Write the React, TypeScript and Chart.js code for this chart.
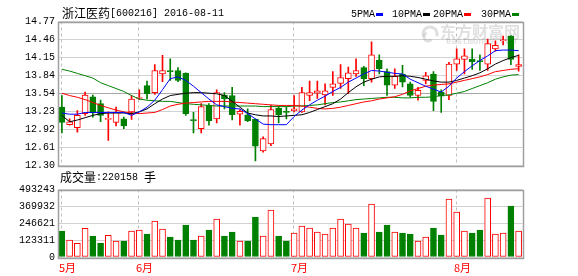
import React, { useEffect, useRef } from "react";
import { Chart, registerables } from "chart.js";
Chart.register(...registerables);

const tradeDates = [
  "05-18","05-19","05-20","05-23","05-24","05-25","05-26","05-27","05-30","05-31",
  "06-01","06-02","06-03","06-06","06-07","06-08","06-13","06-14","06-15","06-16",
  "06-17","06-20","06-21","06-22","06-23","06-24","06-27","06-28","06-29","06-30",
  "07-01","07-04","07-05","07-06","07-07","07-08","07-11","07-12","07-13","07-14",
  "07-15","07-18","07-19","07-20","07-21","07-22","07-25","07-26","07-27","07-28",
  "07-29","08-01","08-02","08-03","08-04","08-05","08-08","08-09","08-10","08-11"
];
const openPrices = [
  13.30,13.00,12.95,13.19,13.48,13.36,13.09,13.04,13.10,13.22,
  13.45,13.67,13.55,13.87,13.92,13.93,13.88,13.08,12.93,13.33,
  13.10,13.51,13.50,13.18,13.17,13.09,12.55,12.67,13.28,13.22,
  13.24,13.22,13.50,13.54,13.51,13.64,13.71,13.79,13.87,13.98,
  13.79,14.11,13.91,13.68,13.87,13.70,13.50,13.76,13.87,13.56,
  13.50,14.04,14.12,14.12,14.10,14.04,14.30,14.44,14.52,14.00
];
const highPrices = [
  13.50,13.10,13.24,13.56,13.51,13.42,13.22,13.30,13.13,13.50,
  13.60,13.75,14.03,14.19,14.13,13.98,13.89,13.21,13.36,13.36,
  13.60,13.55,13.64,13.26,13.27,13.10,12.79,13.33,13.32,13.30,
  13.50,13.64,13.75,13.75,13.70,13.91,14.03,13.99,14.13,14.00,
  14.42,14.20,13.96,13.96,14.02,13.73,13.64,13.90,13.91,13.60,
  14.07,14.30,14.30,14.30,14.20,14.47,14.44,14.52,14.53,14.20
];
const lowPrices = [
  12.86,12.99,12.87,13.16,13.13,13.05,12.73,12.98,12.93,13.09,
  13.43,13.44,13.52,13.74,13.76,13.74,13.16,12.86,12.86,12.99,
  13.03,13.27,13.08,12.99,13.05,12.38,12.53,12.64,13.03,13.10,
  13.22,13.21,13.41,13.45,13.34,13.50,13.62,13.53,13.83,13.67,
  13.73,13.87,13.50,13.62,13.65,13.47,13.42,13.70,13.24,13.21,
  13.43,13.93,13.87,13.95,13.93,13.93,14.26,14.37,14.03,13.92
];
const closePrices = [
  13.04,13.05,13.16,13.51,13.20,13.16,13.10,13.21,12.98,13.44,
  13.46,13.53,13.93,13.93,13.91,13.76,13.19,13.07,13.31,13.07,
  13.55,13.44,13.17,13.23,13.07,12.63,12.76,13.26,13.17,13.21,
  13.27,13.55,13.55,13.58,13.58,13.70,13.81,13.89,13.93,13.79,
  14.20,13.96,13.68,13.83,13.73,13.50,13.59,13.84,13.40,13.49,
  14.04,14.13,14.18,14.08,14.08,14.39,14.36,14.45,14.12,14.03
];
const volumes = [
  189520,123920,99620,208960,153080,102050,157930,116630,116630,189520,
  196810,167650,262420,204100,145790,123920,233260,123920,153080,196810,
  277000,153080,182230,116630,116630,291570,153080,342600,153080,116630,
  174940,225970,211390,182230,167650,211390,277000,240550,211390,174940,
  386330,182230,233260,182230,174940,167650,116630,145790,211390,160360,
  422780,328020,189520,174940,196810,430070,167650,174940,371760,189520
];
const ma5 = [
  13.20,13.18,13.18,13.21,13.21,13.21,13.21,13.21,13.21,13.16,
  13.22,13.30,13.42,13.60,13.79,13.82,13.76,13.66,13.55,13.44,
  13.34,13.31,13.28,13.27,13.19,13.10,13.01,13.00,13.00,13.00,
  13.14,13.25,13.34,13.42,13.49,13.57,13.64,13.73,13.80,13.87,
  13.93,13.92,13.90,13.88,13.87,13.78,13.72,13.66,13.61,13.56,
  13.66,13.80,13.91,14.01,14.10,14.18,14.27,14.28,14.28,14.27
];
const ma10 = [
  13.16,13.05,13.08,13.12,13.16,13.19,13.20,13.20,13.20,13.19,
  13.22,13.27,13.36,13.44,13.50,13.52,13.54,13.55,13.55,13.54,
  13.53,13.50,13.40,13.30,13.20,13.17,13.15,13.15,13.14,13.15,
  13.16,13.17,13.21,13.26,13.31,13.36,13.44,13.55,13.65,13.73,
  13.78,13.82,13.83,13.83,13.84,13.83,13.81,13.78,13.75,13.73,
  13.73,13.76,13.80,13.84,13.89,13.96,14.04,14.10,14.15,14.19
];
const ma20 = [
  13.54,13.50,13.47,13.43,13.38,13.33,13.29,13.25,13.22,13.20,
  13.19,13.20,13.21,13.26,13.32,13.35,13.37,13.38,13.39,13.40,
  13.40,13.40,13.39,13.38,13.37,13.36,13.35,13.34,13.33,13.33,
  13.33,13.32,13.30,13.28,13.27,13.28,13.30,13.33,13.36,13.39,
  13.41,13.44,13.46,13.48,13.52,13.58,13.62,13.66,13.68,13.69,
  13.70,13.73,13.76,13.79,13.82,13.86,13.91,13.93,13.95,13.96
];
const ma30 = [
  13.95,13.92,13.88,13.84,13.80,13.72,13.67,13.62,13.57,13.50,
  13.44,13.42,13.41,13.40,13.40,13.38,13.36,13.35,13.34,13.33,
  13.32,13.32,13.32,13.32,13.32,13.32,13.31,13.31,13.31,13.31,
  13.32,13.32,13.33,13.34,13.36,13.38,13.39,13.41,13.43,13.44,
  13.45,13.46,13.47,13.47,13.46,13.46,13.47,13.47,13.48,13.50,
  13.51,13.54,13.57,13.62,13.67,13.72,13.78,13.82,13.85,13.86
];
const priceTicks = [12.30, 12.61, 12.92, 13.23, 13.54, 13.84, 14.15, 14.46, 14.77];
const volumeTicks = [0, 123311, 246621, 369932, 493243];
const monthStartIndex = [0, 10, 30, 51];
const monthLabels = ["5月", "6月", "7月", "8月"];
const maLabels = ["5PMA", "10PMA", "20PMA", "30PMA"];
const stockName = "浙江医药";
const stockCode = "[600216] 2016-08-11";
const lastVolume = 220158;

const RED = "#ff0000";
const GREEN = "#008000";
const BLUE = "#0000ff";
const BLACK = "#000000";
const maColors = [BLUE, BLACK, RED, GREEN];
const legendX = [351, 392, 433, 481];
const CJK = '"Noto Sans CJK SC", sans-serif';
const MONO = '"Liberation Mono", monospace';

const up = openPrices.map((o, i) => closePrices[i] >= o);

function drawFrame(chart: any) {
  const { ctx, chartArea: a } = chart;
  ctx.save();
  ctx.strokeStyle = "#a0a0a0";
  ctx.lineWidth = 1.5;
  ctx.strokeRect(Math.round(a.left) + 0.5, Math.round(a.top) + 0.5, Math.round(a.right - a.left), Math.round(a.bottom - a.top));
  ctx.restore();
}

function drawMonthLines(chart: any) {
  const { ctx, chartArea: a, scales } = chart;
  ctx.save();
  ctx.strokeStyle = "#c0c0c0";
  ctx.lineWidth = 1;
  ctx.setLineDash([3, 3]);
  monthStartIndex.forEach((i) => {
    const x = Math.round(scales.x.getPixelForValue(i)) - 0.5;
    ctx.beginPath();
    ctx.moveTo(x, a.top);
    ctx.lineTo(x, a.bottom);
    ctx.stroke();
  });
  ctx.restore();
}

const pricePlugin = {
  id: "priceDeco",
  beforeDatasetsDraw(chart: any) {
    const { ctx } = chart;
    ctx.save();
    ctx.fillStyle = "rgba(150,150,150,0.30)";
    ctx.strokeStyle = "rgba(150,150,150,0.30)";
    ctx.lineWidth = 3;
    ctx.beginPath();
    ctx.arc(430, 34, 7, Math.PI * 0.9, Math.PI * 2.1);
    ctx.stroke();
    ctx.beginPath();
    ctx.arc(428, 37, 4, Math.PI * 0.2, Math.PI * 1.4);
    ctx.stroke();
    ctx.font = `bold 16px ${CJK}`;
    ctx.textBaseline = "middle";
    ctx.fillText("东方财富网", 440, 32);
    ctx.font = `bold 9px ${MONO}`;
    ctx.fillText("eastmoney.com", 446, 42);
    ctx.restore();
    drawMonthLines(chart);
  },
  afterDraw(chart: any) {
    const { ctx } = chart;
    drawFrame(chart);
    ctx.save();
    ctx.textBaseline = "middle";
    ctx.fillStyle = "#000";
    ctx.font = `12px ${CJK}`;
    ctx.fillText(stockName, 62, 13);
    const w = ctx.measureText(stockName).width;
    ctx.font = `10px ${MONO}`;
    ctx.fillText(stockCode, 62 + w, 13.5);
    maLabels.forEach((lab, k) => {
      ctx.font = `10px ${MONO}`;
      ctx.fillStyle = "#000";
      ctx.fillText(lab, legendX[k], 14);
      const tw = ctx.measureText(lab).width;
      ctx.fillStyle = maColors[k];
      ctx.fillRect(legendX[k] + tw + 1, 13, 7, 3);
    });
    ctx.restore();
  },
};

const volumePlugin = {
  id: "volDeco",
  beforeDatasetsDraw(chart: any) {
    drawMonthLines(chart);
  },
  afterDraw(chart: any) {
    const { ctx, scales } = chart;
    drawFrame(chart);
    ctx.save();
    ctx.textBaseline = "middle";
    ctx.fillStyle = "#000";
    let x = 60;
    ctx.font = `12px ${CJK}`;
    ctx.fillText("成交量", x, 177);
    x += ctx.measureText("成交量").width;
    ctx.font = `10px ${MONO}`;
    const vs = ":" + String(lastVolume);
    ctx.fillText(vs, x, 177.5);
    x += ctx.measureText(vs).width + 6;
    ctx.font = `12px ${CJK}`;
    ctx.fillText("手", x, 177);
    ctx.fillStyle = RED;
    monthStartIndex.forEach((i, k) => {
      const px = Math.round(scales.x.getPixelForValue(i)) - 3;
      ctx.font = `11px ${CJK}`;
      ctx.fillText(monthLabels[k], px, 268);
    });
    ctx.restore();
  },
};

export default function App() {
  const priceRef = useRef<HTMLCanvasElement>(null);
  const volRef = useRef<HTMLCanvasElement>(null);

  useEffect(() => {
    const priceChart = new Chart(priceRef.current as HTMLCanvasElement, {
      type: "bar",
      data: {
        labels: tradeDates,
        datasets: [
          ...[ma5, ma10, ma20, ma30].map((d, k) => ({
            type: "line" as const,
            label: maLabels[k],
            data: d,
            borderColor: maColors[k],
            borderWidth: 1,
            pointRadius: 0,
            tension: 0,
            fill: false,
            order: 0,
          })),
          {
            type: "bar" as const,
            label: "body",
            data: openPrices.map((o, i) => [o, closePrices[i]]),
            backgroundColor: up.map((u) => (u ? "#ffffff" : GREEN)),
            borderColor: up.map((u) => (u ? RED : GREEN)),
            borderWidth: 1,
            borderSkipped: false,
            barThickness: 6,
            minBarLength: 1,
            grouped: false,
            order: 1,
          },
          {
            type: "bar" as const,
            label: "wick",
            data: lowPrices.map((l, i) => [l, highPrices[i]]),
            backgroundColor: up.map((u) => (u ? RED : GREEN)),
            borderWidth: 0,
            barThickness: 1,
            grouped: false,
            order: 2,
          },
        ] as any,
      },
      options: {
        responsive: false,
        animation: false,
        layout: { padding: { top: 21.5, right: 55.5, bottom: 110.5, left: 0 } },
        plugins: { legend: { display: false }, tooltip: { enabled: false } },
        scales: {
          x: { type: "category", offset: true, display: false },
          y: {
            min: 12.3,
            max: 14.77,
            afterBuildTicks: (s: any) => {
              s.ticks = priceTicks.map((v) => ({ value: v }));
            },
            afterFit: (s: any) => {
              s.width = 58;
            },
            border: { display: false },
            grid: {
              drawTicks: false,
              lineWidth: 1,
              color: (c: any) =>
                c.tick && Math.abs(c.tick.value - priceTicks[4]) < 1e-6 ? "#a8a8a8" : "#d2d2d2",
            },
            ticks: {
              autoSkip: false,
              padding: 3,
              color: "#000",
              font: { family: "Liberation Mono", size: 10 },
              callback: (v: any) => Number(v).toFixed(2),
            },
          },
        },
      } as any,
      plugins: [pricePlugin],
    });

    const volChart = new Chart(volRef.current as HTMLCanvasElement, {
      type: "bar",
      data: {
        labels: tradeDates,
        datasets: [
          {
            label: "volume",
            data: volumes,
            backgroundColor: up.map((u) => (u ? "#ffffff" : GREEN)),
            borderColor: up.map((u) => (u ? RED : GREEN)),
            borderWidth: 1,
            borderSkipped: false,
            barThickness: 6,
          },
        ],
      },
      options: {
        responsive: false,
        animation: false,
        layout: { padding: { top: 189.5, right: 55.5, bottom: 19, left: 0 } },
        plugins: { legend: { display: false }, tooltip: { enabled: false } },
        scales: {
          x: { type: "category", offset: true, display: false },
          y: {
            min: 0,
            max: 493243,
            afterBuildTicks: (s: any) => {
              s.ticks = volumeTicks.map((v) => ({ value: v }));
            },
            afterFit: (s: any) => {
              s.width = 58;
            },
            border: { display: false },
            grid: { drawTicks: false, lineWidth: 1, color: "#d2d2d2" },
            ticks: {
              autoSkip: false,
              padding: 3,
              color: "#000",
              font: { family: "Liberation Mono", size: 10 },
              callback: (v: any) => String(v),
            },
          },
        },
      } as any,
      plugins: [volumePlugin],
    });

    return () => {
      priceChart.destroy();
      volChart.destroy();
    };
  }, []);

  return (
    <div style={{ position: "fixed", left: 0, top: 0, width: 578, height: 276, background: "#fff" }}>
      <canvas ref={priceRef} width={578} height={276} style={{ position: "absolute", left: 0, top: 0 }} />
      <canvas ref={volRef} width={578} height={276} style={{ position: "absolute", left: 0, top: 0 }} />
    </div>
  );
}
